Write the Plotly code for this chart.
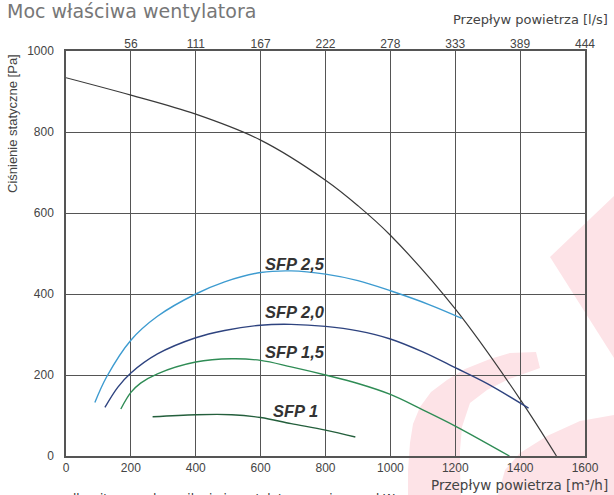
import plotly.graph_objects as go

# ---- data ----
x_ticks = [0, 200, 400, 600, 800, 1000, 1200, 1400, 1600]
top_tick_vals = [200, 400, 600, 800, 1000, 1200, 1400, 1600]
top_tick_labels = ["56", "111", "167", "222", "278", "333", "389", "444"]
y_ticks = [0, 200, 400, 600, 800, 1000]

fan_x = [0, 200, 400, 600, 800, 900, 1000, 1200, 1400, 1512]
fan_y = [934, 891, 844, 780, 681, 618, 545, 363, 140, 0]

sfp25_x = [89, 125, 200, 282, 400, 489, 600, 694, 800, 900, 1000, 1119, 1220]
sfp25_y = [132, 195, 286, 345, 400, 430, 453, 457, 449, 433, 408, 374, 340]

sfp20_x = [120, 160, 200, 282, 400, 489, 600, 694, 800, 900, 1000, 1100, 1200, 1300, 1426]
sfp20_y = [120, 170, 205, 252, 292, 310, 323, 325, 320, 309, 289, 257, 218, 178, 118]

sfp15_x = [169, 200, 230, 282, 400, 511, 600, 694, 800, 900, 1000, 1100, 1200, 1367]
sfp15_y = [116, 157, 180, 203, 232, 240, 236, 220, 200, 179, 152, 114, 74, 0]

sfp1_x = [267, 400, 511, 600, 694, 800, 892]
sfp1_y = [97, 102, 102, 95, 80, 64, 47]

sfp_labels = ["SFP 2,5", "SFP 2,0", "SFP 1,5", "SFP 1"]
sfp_label_x = [707, 707, 707, 707]
sfp_label_y = [474, 355, 258, 112]

# ---- layout geometry (pixels) ----
W, H = 614, 495
L, R, T, B = 66, 29, 51, 39
PW, PH = W - L - R, H - T - B


def px2paper(px, py):
    return (px - L) / PW, (H - B - py) / PH


def path_from_px(points):
    pts = [px2paper(x, y) for x, y in points]
    return "M " + " L ".join(f"{x:.4f},{y:.4f}" for x, y in pts) + " Z"


fig = go.Figure()

curve_style = dict(mode="lines", line_shape="spline", hoverinfo="skip", showlegend=False)
fig.add_trace(go.Scatter(x=fan_x, y=fan_y, line=dict(color="#3a3a3a", width=1.2, smoothing=1), **curve_style))
fig.add_trace(go.Scatter(x=sfp25_x, y=sfp25_y, line=dict(color="#3d9bd0", width=1.4, smoothing=1), **curve_style))
fig.add_trace(go.Scatter(x=sfp20_x, y=sfp20_y, line=dict(color="#2e437f", width=1.4, smoothing=1), **curve_style))
fig.add_trace(go.Scatter(x=sfp15_x, y=sfp15_y, line=dict(color="#2f8c55", width=1.4, smoothing=1), **curve_style))
fig.add_trace(go.Scatter(x=sfp1_x, y=sfp1_y, line=dict(color="#245f3c", width=1.4, smoothing=1), **curve_style))
# invisible trace to anchor the top (l/s) axis
fig.add_trace(go.Scatter(x=fan_x, y=fan_y, xaxis="x2", mode="lines",
                         line=dict(color="rgba(0,0,0,0)"), hoverinfo="skip", showlegend=False))

for txt, lx, ly in zip(sfp_labels, sfp_label_x, sfp_label_y):
    fig.add_annotation(x=lx, y=ly, xref="x", yref="y", text=f"<b><i>{txt}</i></b>",
                       showarrow=False, font=dict(family="Liberation Sans", size=16.5, color="#333333"))


def add_text(text, px, py, xanchor, yanchor, size, color="#444444", family="DejaVu Sans", angle=0):
    x, y = px2paper(px, py)
    fig.add_annotation(x=x, y=y, xref="paper", yref="paper", text=text, showarrow=False,
                       xanchor=xanchor, yanchor=yanchor, textangle=angle,
                       font=dict(family=family, size=size, color=color))


add_text("Przepływ powietrza [l/s]", 610, 20, "right", "middle", 13)
add_text("Przepływ powietrza [m³/h]", 610, 485, "right", "middle", 13.5)
add_text("Ciśnienie statyczne [Pa]", 12, 124, "center", "middle", 13,
         family="Liberation Sans", angle=-90)
add_text("całkowita moc do zasilania i wentylatory wyciągowe kW", 57, 490, "left", "top", 12,
         color="#333333")
add_text("— —", 8, 492, "left", "top", 10, color="#555555")

# faint pink watermark logo in the background
pink = "#fde3e7"
shapes = [
    dict(type="path", xref="paper", yref="paper", layer="below", line=dict(width=0), fillcolor=pink,
         path=path_from_px([(550, 257), (614, 196), (614, 358)])),
    dict(type="path", xref="paper", yref="paper", layer="below", line=dict(width=0), fillcolor=pink,
         path=path_from_px([(536, 352), (510, 353), (490, 359), (465, 369), (447, 380), (431, 392),
                            (420, 407), (413, 424), (410, 443), (408, 470), (408, 495),
                            (461, 495), (460, 470), (460, 450), (462, 427), (470, 403),
                            (487, 390), (507, 380), (540, 368)])),
    dict(type="path", xref="paper", yref="paper", layer="below", line=dict(width=0), fillcolor=pink,
         path=path_from_px([(614, 415), (580, 421), (547, 436), (520, 453), (505, 470),
                            (498, 495), (614, 495)])),
]

axis_common = dict(showline=True, linecolor="#555555", linewidth=1.5, mirror=True,
                   showgrid=True, gridcolor="#555555", gridwidth=1.3, zeroline=False,
                   tickfont=dict(family="Liberation Sans", size=12, color="#444444"), ticks="")

fig.update_layout(
    width=W, height=H,
    margin=dict(l=L, r=R, t=T, b=B, pad=0),
    paper_bgcolor="white", plot_bgcolor="rgba(0,0,0,0)",
    title=dict(text="Moc właściwa wentylatora", x=7 / W, xanchor="left", xref="container",
               y=1 - 11 / H, yanchor="middle", yref="container",
               font=dict(family="DejaVu Sans", size=19, color="#777777")),
    xaxis=dict(range=[0, 1600], tickvals=x_ticks, **axis_common),
    xaxis2=dict(range=[0, 1600], overlaying="x", side="top", tickvals=top_tick_vals,
                ticktext=top_tick_labels, showgrid=False, showline=False, zeroline=False,
                tickfont=dict(family="Liberation Sans", size=12, color="#444444"), ticks=""),
    yaxis=dict(range=[0, 1000], tickvals=y_ticks, ticklabelstandoff=8, **axis_common),
    shapes=shapes,
    showlegend=False,
)

fig.write_html("out.html", config={"displayModeBar": False},
               post_script="document.body.style.margin='0';document.body.style.overflow='hidden';")
